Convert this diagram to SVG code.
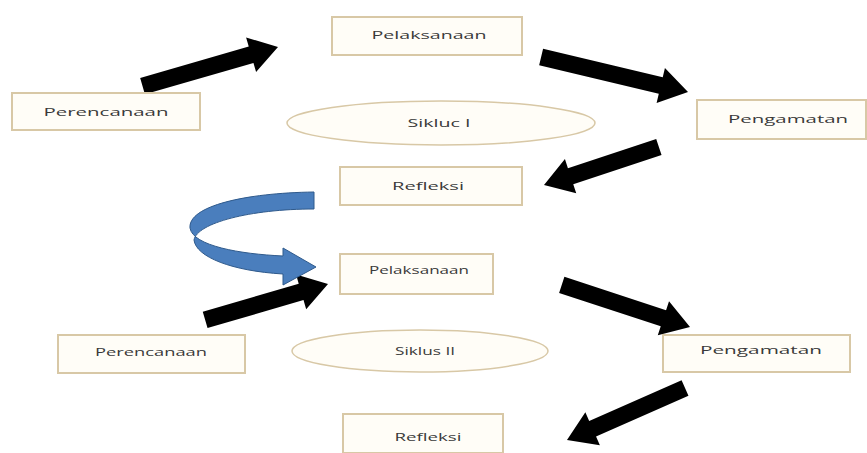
<svg xmlns="http://www.w3.org/2000/svg" width="867" height="453" viewBox="0 0 867 453">
<style>
.box{fill:#fffdf7;stroke:#d8c8a6;stroke-width:2}
.ell{fill:#fffdf7;stroke:#d8c8a6;stroke-width:1.5}
.t{font-family:"Open Sans","Liberation Sans",sans-serif;font-size:11px;fill:#3a3a3a;text-anchor:middle}
.arr{fill:#000}
</style>
<rect width="867" height="453" fill="#fff"/>
<g id="connectors">
<path class="arr" transform="translate(278,47) rotate(-16.1)" d="M-141,-8.5 L-28,-8.5 L-28,-18 L0,0 L-28,18 L-28,8.5 L-141,8.5 Z"/>
<path class="arr" transform="translate(688,92) rotate(13.4)" d="M-151,-8.5 L-28,-8.5 L-28,-18 L0,0 L-28,18 L-28,8.5 L-151,8.5 Z"/>
<path class="arr" transform="translate(544,185) rotate(161.7)" d="M-121,-8.5 L-28,-8.5 L-28,-18 L0,0 L-28,18 L-28,8.5 L-121,8.5 Z"/>
<path class="arr" transform="translate(328,284) rotate(-16.3)" d="M-128,-8.5 L-28,-8.5 L-28,-18 L0,0 L-28,18 L-28,8.5 L-128,8.5 Z"/>
<path class="arr" transform="translate(690,327) rotate(18.2)" d="M-135,-8.5 L-28,-8.5 L-28,-18 L0,0 L-28,18 L-28,8.5 L-135,8.5 Z"/>
<path class="arr" transform="translate(567,440) rotate(156.2)" d="M-129,-8.5 L-28,-8.5 L-28,-18 L0,0 L-28,18 L-28,8.5 L-129,8.5 Z"/>
<path d="M314,192 C245,193 188,206 190,228 C193,246 240,254 283,256 L283,248 L316,267 L283,285 L283,274 C232,271 196,257 194,240 C197,223 250,209 314,209 Z" fill="#4a7ebd" stroke="#2f5a8c" stroke-width="1"/>
</g>
<g id="perencanaan1"><rect class="box" x="12" y="93" width="188" height="37"/><text class="t" x="106" y="116" textLength="125" lengthAdjust="spacingAndGlyphs">Perencanaan</text></g>
<g id="pelaksanaan1"><rect class="box" x="332" y="17" width="190" height="38"/><text class="t" x="429" y="39" textLength="115" lengthAdjust="spacingAndGlyphs">Pelaksanaan</text></g>
<g id="pengamatan1"><rect class="box" x="697" y="100" width="169" height="39"/><text class="t" x="788" y="123" textLength="120" lengthAdjust="spacingAndGlyphs">Pengamatan</text></g>
<g id="siklus1"><ellipse class="ell" cx="441" cy="123" rx="154" ry="22"/><text class="t" x="439" y="127" textLength="63" lengthAdjust="spacingAndGlyphs">Sikluc I</text></g>
<g id="refleksi1"><rect class="box" x="340" y="167" width="182" height="38"/><text class="t" x="428" y="190" textLength="72" lengthAdjust="spacingAndGlyphs">Refleksi</text></g>
<g id="pelaksanaan2"><rect class="box" x="340" y="254" width="153" height="40"/><text class="t" x="419" y="274" textLength="100" lengthAdjust="spacingAndGlyphs">Pelaksanaan</text></g>
<g id="perencanaan2"><rect class="box" x="58" y="335" width="187" height="38"/><text class="t" x="151" y="356" textLength="112" lengthAdjust="spacingAndGlyphs">Perencanaan</text></g>
<g id="siklus2"><ellipse class="ell" cx="420" cy="351" rx="128" ry="21"/><text class="t" x="425" y="355" textLength="60" lengthAdjust="spacingAndGlyphs">Siklus II</text></g>
<g id="pengamatan2"><rect class="box" x="663" y="335" width="187" height="37"/><text class="t" x="761" y="354" textLength="122" lengthAdjust="spacingAndGlyphs">Pengamatan</text></g>
<g id="refleksi2"><rect class="box" x="343" y="414" width="160" height="39"/><text class="t" x="428" y="441" textLength="67" lengthAdjust="spacingAndGlyphs">Refleksi</text></g>
</svg>
